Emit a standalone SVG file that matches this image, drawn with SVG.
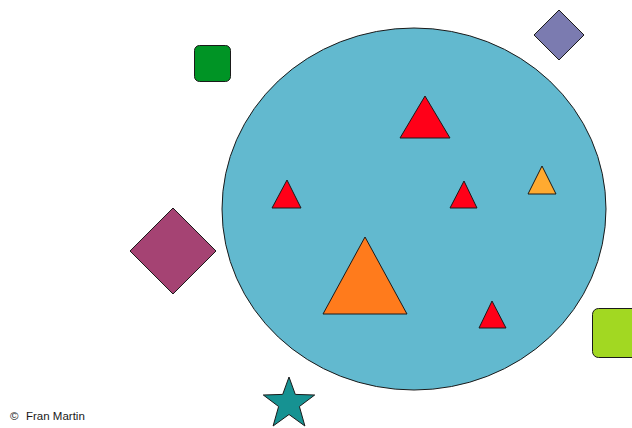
<svg xmlns="http://www.w3.org/2000/svg" width="632" height="428" viewBox="0 0 632 428">
<style>
.s{stroke:#1a1a1a;stroke-width:1;stroke-linejoin:round}
.red{fill:#ff0018}
.t{font-family:"Liberation Sans",Arial,sans-serif;font-size:11.5px;fill:#1a1a1a}
</style>
<rect width="632" height="428" fill="#ffffff"/>
<g id="circle"><ellipse class="s" cx="414" cy="209" rx="192" ry="181" fill="#62b9cf"/></g>
<g id="green-square"><rect class="s" x="194.5" y="45.5" width="36" height="36" rx="5" fill="#009425"/></g>
<g id="purple-diamond"><polygon class="s" points="559,10 584,35 559,60 534,35" fill="#7b7bb0"/></g>
<g id="magenta-diamond"><polygon class="s" points="173,208 216,251 173,294 130,251" fill="#a54373"/></g>
<g id="lime-square"><rect class="s" x="592.5" y="308.5" width="50" height="49" rx="6" fill="#a2d822"/></g>
<g id="star"><polygon class="s" fill="#169292" points="289,377 295.3,394.4 314.7,395 299.4,406.5 304.9,426 289,414.5 273.1,426 278.6,406.5 263.3,395 282.7,394.4"/></g>
<g id="tri-big-red"><polygon class="s red" points="425,96 450,138 400,138"/></g>
<g id="tri-left-red"><polygon class="s red" points="287,180 301,208 272,208"/></g>
<g id="tri-mid-red"><polygon class="s red" points="464,181 477,208 450,208"/></g>
<g id="tri-low-red"><polygon class="s red" points="492,301 506,328 479,328"/></g>
<g id="tri-small-orange"><polygon class="s" fill="#ffaa30" points="542,166 556,194 528,194"/></g>
<g id="tri-big-orange"><polygon class="s" fill="#ff7b1c" points="365,237 407,314 323,314"/></g>
<g id="connectors"></g>
<text class="t" x="10" y="420">©</text>
<text class="t" x="26" y="420">Fran Martin</text>
</svg>
